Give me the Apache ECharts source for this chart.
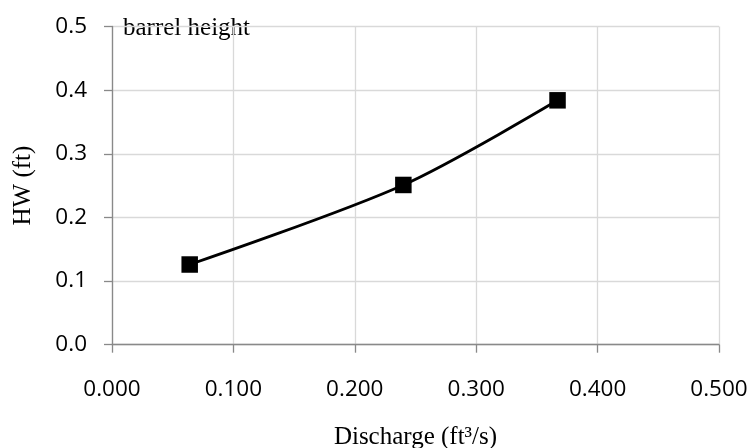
<!DOCTYPE html>
<html>
<head>
<meta charset="utf-8">
<script src="https://cdn.jsdelivr.net/npm/echarts@6/dist/echarts.min.js"></script>
<style>html,body{margin:0;padding:0;background:#fff;}#c{width:752px;height:448px;}</style>
</head>
<body>
<div id="c"></div>
<script>
var discharge = [0.064, 0.240, 0.367];
var headwater = [0.126, 0.251, 0.384];
var xTitle = 'Discharge (ft\u00B3/s)';
var yTitle = 'HW (ft)';
var note = 'barrel height';

var pts = discharge.map(function (x, i) { return [x, headwater[i]]; });
var chart = echarts.init(document.getElementById('c'));
chart.setOption({
  animation: false,
  grid: { left: 112, right: 33, top: 26.5, bottom: 103.3, containLabel: false, outerBoundsMode: 'none' },
  xAxis: {
    type: 'value', min: 0, max: 0.5, interval: 0.1,
    name: xTitle, nameLocation: 'middle', nameGap: 80,
    nameTextStyle: { fontFamily: 'Liberation Serif', fontSize: 25, color: '#000' },
    axisLine: { show: true, lineStyle: { color: '#898989', width: 1.3 } },
    axisTick: { show: true, length: 8, lineStyle: { color: '#898989', width: 1.3 } },
    axisLabel: { margin: 33, fontFamily: 'Open Sans', fontSize: 22.5, color: '#000',
      formatter: function (v) { return v.toFixed(3); } },
    splitLine: { show: true, lineStyle: { color: '#d9d9d9', width: 1.3 } }
  },
  yAxis: {
    type: 'value', min: 0, max: 0.5, interval: 0.1,
    name: yTitle, nameLocation: 'middle', nameGap: 76, nameRotate: 90,
    nameTextStyle: { fontFamily: 'Liberation Serif', fontSize: 25, color: '#000' },
    axisLine: { show: true, lineStyle: { color: '#898989', width: 1.3 } },
    axisTick: { show: true, length: 8, lineStyle: { color: '#898989', width: 1.3 } },
    axisLabel: { margin: 25, fontFamily: 'Open Sans', fontSize: 22.5, color: '#000',
      formatter: function (v) { return v.toFixed(1); } },
    splitLine: { show: true, lineStyle: { color: '#d9d9d9', width: 1.3 } }
  },
  graphic: [{
    type: 'text', left: 123, top: 16,
    style: { text: note, fontFamily: 'Liberation Serif', fontSize: 25, fill: '#000' }
  }],
  series: [{
    type: 'line', data: pts, smooth: 0.3,
    symbol: 'rect', symbolSize: 16.5,
    lineStyle: { color: '#000', width: 2.8 },
    itemStyle: { color: '#000' }
  }]
});
</script>
</body>
</html>
